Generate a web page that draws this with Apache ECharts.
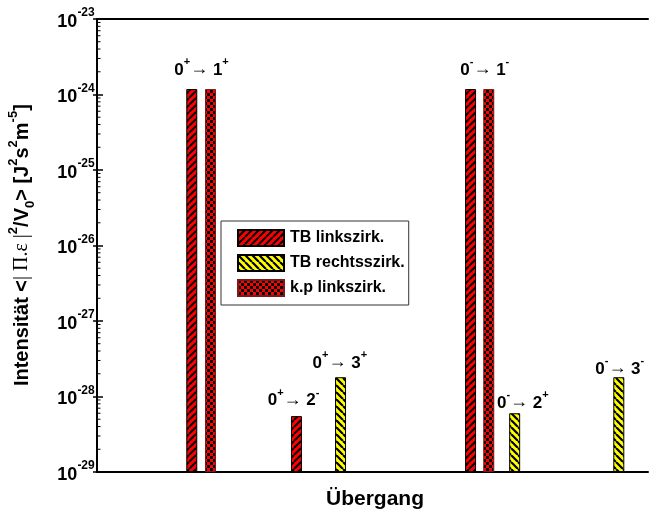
<!DOCTYPE html>
<html>
<head>
<meta charset="utf-8">
<script src="https://cdn.jsdelivr.net/npm/echarts@6/dist/echarts.min.js"></script>
<style>
  html, body { margin: 0; padding: 0; background: #fff; }
  #chart { width: 649px; height: 518px; }
</style>
</head>
<body>
<div id="chart"></div>
<script>
// Transition positions along the horizontal scale (0–100) and intensities in J²s²m⁻⁵
const tbLinksPos = [17.2, 36.2, 67.8];
const tbLinksVal = [1.18e-24, 5.5e-29, 1.18e-24];
const tbRechtsPos = [44.2, 75.8, 94.7];
const tbRechtsVal = [1.8e-28, 6.0e-29, 1.8e-28];
const kpLinksPos = [20.6, 71.1];
const kpLinksVal = [1.18e-24, 1.18e-24];
const seriesNames = ['TB linkszirk.', 'TB rechtsszirk.', 'k.p linkszirk.'];

// Transition annotations: [initial, parity, final, parity]
const transLabels = [
  ['0', '+', '1', '+'],
  ['0', '+', '2', '-'],
  ['0', '+', '3', '+'],
  ['0', '-', '1', '-'],
  ['0', '-', '2', '+'],
  ['0', '-', '3', '-']
];
const transLabelPos = [19.0, 35.7, 44.1, 70.4, 77.3, 94.9];
const transLabelVal = [2.28e-24, 9.5e-29, 3.0e-28, 2.28e-24, 8.85e-29, 2.5e-28];

// The log axis runs in units of 1e-29 (1 … 1e6), i.e. 10^-29 … 10^-23
const unitExp = -29;
const unit = 1e-29;
const decades = 6;

const FONT = '"Liberation Sans", Arial, sans-serif';
const SERIF = '"Liberation Serif", "Times New Roman", serif';

// log-spaced minor ticks (2..9 within each decade)
const minorTicks = [];
for (let e = 0; e < decades; e++) {
  for (let m = 2; m <= 9; m++) minorTicks.push([0, m * Math.pow(10, e)]);
}

function hatch(bg, dir, lw, size) {
  const c = document.createElement('canvas');
  c.width = c.height = size;
  const g = c.getContext('2d');
  g.fillStyle = bg;
  g.fillRect(0, 0, size, size);
  g.strokeStyle = '#000';
  g.lineWidth = lw;
  g.beginPath();
  for (let k = -1; k <= 1; k++) {
    if (dir > 0) { g.moveTo(k * size, size); g.lineTo(k * size + size, 0); }
    else { g.moveTo(k * size, 0); g.lineTo(k * size + size, size); }
  }
  g.stroke();
  return c;
}
function checker(bg, fg, cell) {
  const c = document.createElement('canvas');
  c.width = c.height = cell * 2;
  const g = c.getContext('2d');
  g.fillStyle = bg;
  g.fillRect(0, 0, cell * 2, cell * 2);
  g.fillStyle = fg;
  g.fillRect(0, 0, cell, cell);
  g.fillRect(cell, cell, cell, cell);
  return c;
}

const redHatch = { image: hatch('#ff0000', 1, 2, 7), repeat: 'repeat' };
const yellowHatch = { image: hatch('#ffff00', -1, 2.2, 7), repeat: 'repeat' };
const kpPattern = { image: checker('#ff0000', '#000000', 3), repeat: 'repeat' };

const pair = (xs, ys) => xs.map((x, i) => [x, ys[i] / unit]);

const barCommon = {
  type: 'bar',
  barWidth: 11,
  barGap: '-100%',
  xAxisIndex: 0,
  yAxisIndex: 0
};

const labelRich = {
  b: { fontFamily: FONT, fontSize: 17, fontWeight: 'bold', color: '#000', lineHeight: 17, verticalAlign: 'bottom' },
  a: { fontFamily: FONT, fontSize: 18, color: '#000', lineHeight: 17, verticalAlign: 'bottom' },
  s: { fontFamily: FONT, fontSize: 11, fontWeight: 'bold', color: '#000', lineHeight: 11, verticalAlign: 'top' },
  h: { fontSize: 1, lineHeight: 22 }
};

const chart = echarts.init(document.getElementById('chart'), null, { renderer: 'canvas' });

chart.setOption({
  animation: false,
  backgroundColor: '#fff',
  grid: { left: 97, right: 1, top: 19, bottom: 46 },
  xAxis: [
    {
      type: 'value', min: 0, max: 100,
      axisLine: { show: true, lineStyle: { color: '#000', width: 2 } },
      axisTick: { show: false }, axisLabel: { show: false }, splitLine: { show: false }
    },
    {
      type: 'value', min: 0, max: 100, position: 'top',
      axisLine: { show: true, lineStyle: { color: '#000', width: 2 } },
      axisTick: { show: false }, axisLabel: { show: false }, splitLine: { show: false }
    }
  ],
  yAxis: [
    {
      type: 'log', logBase: 10, min: 1, max: Math.pow(10, decades),
      axisLine: { show: true, lineStyle: { color: '#000', width: 2 } },
      axisTick: { show: true, inside: true, length: 6, lineStyle: { color: '#000', width: 1.5 } },
      splitLine: { show: false },
      axisLabel: {
        margin: 2,
        formatter: v => '{b|10}{s|' + (Math.round(Math.log10(v)) + unitExp) + '}{h| }',
        rich: {
          b: { fontFamily: FONT, fontSize: 18, fontWeight: 'bold', color: '#000', lineHeight: 18, verticalAlign: 'bottom' },
          s: { fontFamily: FONT, fontSize: 12, fontWeight: 'bold', color: '#000', lineHeight: 12, verticalAlign: 'top' },
          h: { fontSize: 1, lineHeight: 24 }
        }
      }
    },
    {
      type: 'log', logBase: 10, min: 1, max: Math.pow(10, decades), position: 'right',
      axisLine: { show: false },
      axisTick: { show: true, inside: true, length: 4, lineStyle: { color: '#000', width: 1.5 } },
      axisLabel: { show: false }, splitLine: { show: false }
    }
  ],
  legend: {
    data: seriesNames,
    orient: 'vertical',
    left: 221, top: 221,
    padding: [8, 4, 8, 16],
    itemWidth: 46, itemHeight: 16, itemGap: 7,
    icon: 'rect',
    borderColor: '#333', borderWidth: 1,
    textStyle: { fontFamily: FONT, fontSize: 16, fontWeight: 'bold', color: '#000', padding: [0, 0, 0, 1] }
  },
  series: [
    Object.assign({}, barCommon, {
      name: seriesNames[0],
      data: pair(tbLinksPos, tbLinksVal),
      itemStyle: { color: redHatch, borderColor: '#000', borderWidth: 1 }
    }),
    Object.assign({}, barCommon, {
      name: seriesNames[1],
      data: pair(tbRechtsPos, tbRechtsVal),
      itemStyle: { color: yellowHatch, borderColor: '#000', borderWidth: 1 }
    }),
    Object.assign({}, barCommon, {
      name: seriesNames[2],
      data: pair(kpLinksPos, kpLinksVal),
      itemStyle: { color: kpPattern, borderColor: '#7a1a1a', borderWidth: 1 }
    }),
    {
      type: 'scatter',
      name: 'transitions',
      symbolSize: 0,
      silent: true,
      z: 10,
      data: pair(transLabelPos, transLabelVal),
      label: {
        show: true,
        position: 'inside',
        color: '#000',
        opacity: 1,
        textBorderWidth: 0,
        formatter: p => {
          const t = transLabels[p.dataIndex];
          return '{b|' + t[0] + '}{s|' + t[1] + '}{a|→}{b| ' + t[2] + '}{s|' + t[3] + '}{h| }';
        },
        rich: labelRich
      },
      emphasis: { disabled: true }
    },
    {
      type: 'custom',
      name: 'minor ticks',
      silent: true,
      clip: false,
      z: 5,
      encode: { x: 0, y: 1 },
      data: minorTicks,
      renderItem: (params, api) => {
        const p = api.coord([0, api.value(1)]);
        return {
          type: 'line',
          shape: { x1: p[0], y1: p[1], x2: p[0] + 3.5, y2: p[1] },
          style: { stroke: '#000', lineWidth: 1 }
        };
      }
    }
  ],
  graphic: [
    {
      type: 'text',
      x: 22, y: 245,
      rotation: Math.PI / 2,
      style: {
        text: '{b|Intensität <}{g|| Π.ε |}{p|2}{b|/V}{d|0}{b|> [J}{p|2}{b|s}{p|2}{b|m}{p|-5}{b|]}{h| }',
        align: 'center',
        verticalAlign: 'middle',
        rich: {
          b: { fontFamily: FONT, fontSize: 20, fontWeight: 'bold', fill: '#000', lineHeight: 20, verticalAlign: 'middle' },
          g: { fontFamily: SERIF, fontSize: 20, fill: '#000', lineHeight: 20, verticalAlign: 'middle' },
          p: { fontFamily: FONT, fontSize: 13, fontWeight: 'bold', fill: '#000', lineHeight: 13, verticalAlign: 'top' },
          d: { fontFamily: FONT, fontSize: 13, fontWeight: 'bold', fill: '#000', lineHeight: 13, verticalAlign: 'bottom' },
          h: { fontSize: 1, lineHeight: 30 }
        }
      }
    },
    {
      type: 'text',
      x: 375, y: 499,
      style: {
        text: 'Übergang',
        align: 'center',
        verticalAlign: 'middle',
        font: 'bold 21px ' + FONT,
        fill: '#000'
      }
    }
  ]
});
</script>
</body>
</html>
